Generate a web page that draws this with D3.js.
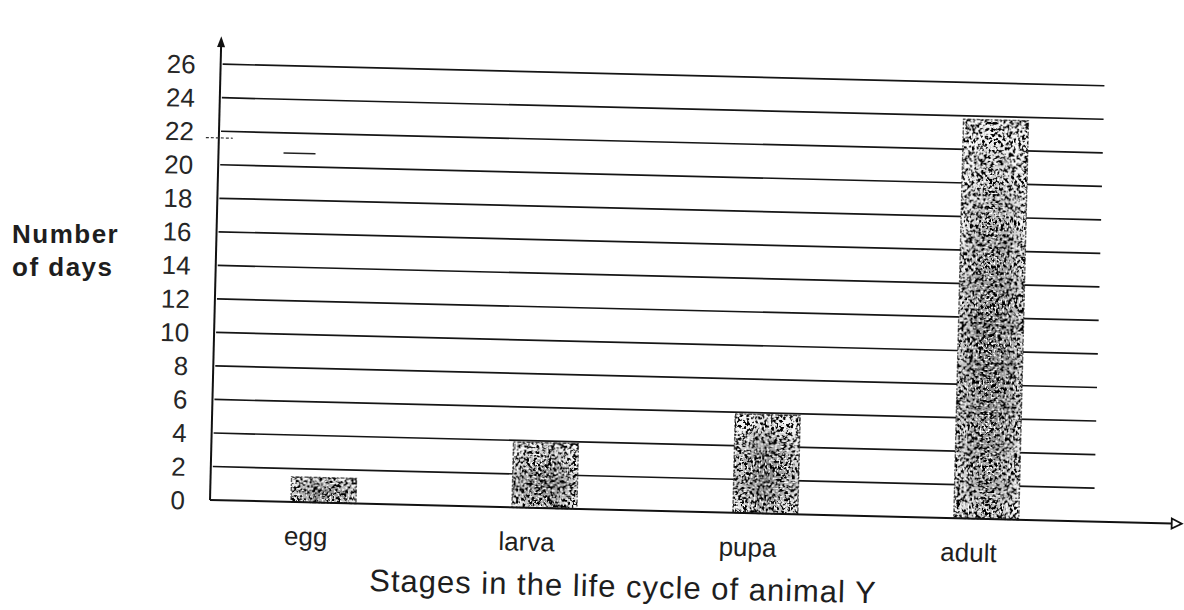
<!DOCTYPE html>
<html>
<head>
<meta charset="utf-8">
<script src="https://cdn.jsdelivr.net/npm/d3@7"></script>
<style>
  body { margin: 0; background: #fff; }
  svg { display: block; }
  text { font-family: "Liberation Sans", Arial, sans-serif; }
</style>
</head>
<body>
<svg id="chart" width="1184" height="610"></svg>
<script>
// Life-cycle stages and how many days each lasts
const stages = ["egg", "larva", "pupa", "adult"];
const days = [1.5, 3.9, 5.9, 23.8];
const yTicks = [0, 2, 4, 6, 8, 10, 12, 14, 16, 18, 20, 22, 24, 26];
const yTitleLines = ["Number", "of days"];
const xTitle = "Stages in the life cycle of animal Y";
// hand-drawn pencil marks on the sheet
const leaderValue = 21.6;            // dashed leader beside the 22 label
const pencilDash = { stage: "egg", value: 20.8 };

const svg = d3.select("#chart");
const plotW = 884;      // length of the ruled lines
const plotH = 436;      // height of the value 26
const tilt = 1.4;       // the printed sheet sits slightly askew

const defs = svg.append("defs");

// grey shading that is darkest in the middle of a bar
const shade = defs.append("radialGradient").attr("id", "barShade")
  .attr("cx", "0.5").attr("cy", "0.6").attr("r", "0.6");
shade.append("stop").attr("offset", "0").attr("stop-color", "#858585");
shade.append("stop").attr("offset", "0.5").attr("stop-color", "#aaaaaa");
shade.append("stop").attr("offset", "1").attr("stop-color", "#f4f4f4");

// stippled halftone dots, coarse and clumpy
const speckle = defs.append("filter").attr("id", "speckle")
  .attr("x", "0").attr("y", "0").attr("width", "1").attr("height", "1");
speckle.append("feTurbulence").attr("type", "fractalNoise")
  .attr("baseFrequency", "0.32").attr("numOctaves", "2").attr("seed", "11").attr("result", "noise");
speckle.append("feColorMatrix").attr("in", "noise").attr("type", "matrix")
  .attr("values", "0 0 0 0 0  0 0 0 0 0  0 0 0 0 0  14 0 0 0 -6.9").attr("result", "dots");
speckle.append("feComposite").attr("in", "dots").attr("in2", "SourceGraphic").attr("operator", "in");

// white pin-holes inside the grey
const holes = defs.append("filter").attr("id", "holes")
  .attr("x", "0").attr("y", "0").attr("width", "1").attr("height", "1");
holes.append("feTurbulence").attr("type", "fractalNoise")
  .attr("baseFrequency", "0.5").attr("numOctaves", "1").attr("seed", "3").attr("result", "noise");
holes.append("feColorMatrix").attr("in", "noise").attr("type", "matrix")
  .attr("values", "0 0 0 0 1  0 0 0 0 1  0 0 0 0 1  -14 0 0 0 6.2").attr("result", "dots");
holes.append("feComposite").attr("in", "dots").attr("in2", "SourceGraphic").attr("operator", "in");

const g = svg.append("g").attr("transform", `translate(210,500) rotate(${tilt})`);

const y = d3.scaleLinear().domain([0, 26]).range([0, -plotH]);
const x = d3.scaleBand().domain(stages).range([3, 887])
  .paddingInner(0.706).paddingOuter(0.353);

// ruled lines
g.append("g").selectAll("line").data(yTicks.filter(d => d > 0)).join("line")
  .attr("x1", 2).attr("x2", plotW)
  .attr("y1", d => y(d)).attr("y2", d => y(d))
  .attr("stroke", "#151515").attr("stroke-width", 1.7);

// value labels
const yAxis = g.append("g").call(
  d3.axisLeft(y).tickValues(yTicks).tickSize(0).tickPadding(25)
);
yAxis.select(".domain").remove();
yAxis.selectAll("text")
  .attr("font-family", "'Liberation Sans', Arial, sans-serif")
  .attr("font-size", 26).attr("fill", "#262626").attr("dy", "0.36em");

// bars: light base, grey centre, black stipple and white pin-holes on top
const bars = g.append("g").selectAll("g").data(stages).join("g");
const barRect = sel => sel
  .attr("x", d => x(d)).attr("width", x.bandwidth())
  .attr("y", (d, i) => y(days[i])).attr("height", (d, i) => -y(days[i]));
bars.append("rect").call(barRect).attr("fill", "url(#barShade)");
bars.append("rect").call(barRect).attr("fill", "#000").attr("filter", "url(#speckle)");
bars.append("rect").call(barRect).attr("fill", "#fff").attr("filter", "url(#holes)");
bars.append("rect").call(barRect)
  .attr("fill", "none").attr("stroke", "#222").attr("stroke-width", 1.4)
  .attr("stroke-dasharray", "2 2 4 1").attr("opacity", 0.75);

// axes with arrow heads
g.append("line").attr("x1", 0).attr("x2", 0).attr("y1", 0).attr("y2", y(26) - 22)
  .attr("stroke", "#111").attr("stroke-width", 2);
g.append("path")
  .attr("d", `M0,${y(26) - 28} l-4,11 l8,0 Z`).attr("fill", "#111");
g.append("line").attr("x1", 0).attr("x2", 962).attr("y1", 0).attr("y2", 0)
  .attr("stroke", "#111").attr("stroke-width", 2);
g.append("path")
  .attr("d", "M962,-5 l10,5 l-10,5 Z").attr("fill", "#fff").attr("stroke", "#111").attr("stroke-width", 1.8);

// category labels
g.append("g").selectAll("text").data(stages).join("text")
  .attr("x", d => x(d) + x.bandwidth() / 2 - 17).attr("y", 43)
  .attr("text-anchor", "middle").attr("font-size", 26).attr("fill", "#1e1e1e")
  .text(d => d);

// x title
g.append("text")
  .attr("x", (x.range()[0] + x.range()[1]) / 2 - 30).attr("y", 87)
  .attr("text-anchor", "middle").attr("font-size", 31).attr("fill", "#1e1e1e")
  .attr("letter-spacing", 1.0)
  .text(xTitle);

// y title
svg.append("g").selectAll("text").data(yTitleLines).join("text")
  .attr("x", 12).attr("y", (d, i) => 243 + i * 33)
  .attr("font-size", 26).attr("font-weight", "bold").attr("fill", "#1e1e1e")
  .attr("letter-spacing", 1.5)
  .text(d => d);

// pencil marks
g.append("line").attr("x1", -13).attr("x2", 14)
  .attr("y1", y(leaderValue)).attr("y2", y(leaderValue))
  .attr("stroke", "#333").attr("stroke-width", 1.2).attr("stroke-dasharray", "3 2");
g.append("line")
  .attr("x1", x(pencilDash.stage) - 16).attr("x2", x(pencilDash.stage) + 16)
  .attr("y1", y(pencilDash.value)).attr("y2", y(pencilDash.value))
  .attr("stroke", "#222").attr("stroke-width", 1.5);
</script>
</body>
</html>
